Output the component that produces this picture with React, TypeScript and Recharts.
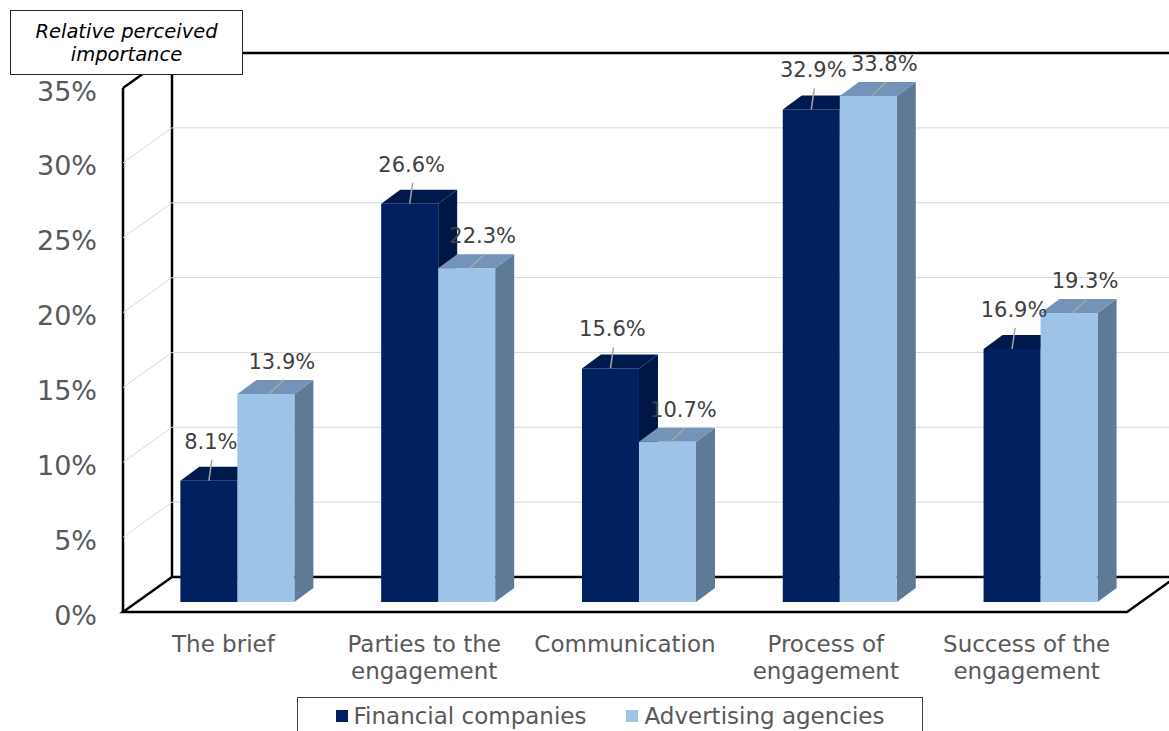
import { BarChart, Bar, XAxis, YAxis, CartesianGrid, LabelList } from "recharts"

const categories = [
  "The brief",
  "Parties to the engagement",
  "Communication",
  "Process of engagement",
  "Success of the engagement",
]
const categoryLines = [
  ["The brief"],
  ["Parties to the", "engagement"],
  ["Communication"],
  ["Process of", "engagement"],
  ["Success of the", "engagement"],
]
const financial = [8.1, 26.6, 15.6, 32.9, 16.9]
const advertising = [13.9, 22.3, 10.7, 33.8, 19.3]
const yTicks = [0, 5, 10, 15, 20, 25, 30, 35]
const seriesNames = ["Financial companies", "Advertising agencies"]

const data = categories.map((name, i) => ({
  name,
  financial: financial[i],
  advertising: advertising[i],
}))

// layout
const W = 1169
const H = 731
const TOP = 88
const XAXIS_H = 119
const BOTTOM = H - XAXIS_H // 612
const FRONT_SHIFT = 14 // front-left corner sits left of the band start
const FLOOR_DX = 49 // depth of the 3d box
const FLOOR_DY = 35
const BAR_DX = 19 // depth of each bar
const BAR_DY = 14
const LIFT = 10 // bars sit a bit behind the front plane

const FONT = "'DejaVu Sans', Verdana, sans-serif"

const colors = {
  dark: { front: "#002060", top: "#001a4d", side: "#001746" },
  light: { front: "#9dc3e6", top: "#7393b8", side: "#5f7a96" },
}

function GridLine(props: any) {
  const { x1, x2, y1, index } = props
  const fl = x1 - FRONT_SHIFT
  const fr = x2 - FRONT_SHIFT
  const farRight = W + 60
  const parts = []
  const onEdge = Math.abs(y1 - TOP) < 1 || Math.abs(y1 - BOTTOM) < 1
  if (!onEdge) {
    parts.push(
      <polyline
        key="g"
        points={`${fl},${y1} ${fl + FLOOR_DX},${y1 - FLOOR_DY} ${farRight},${y1 - FLOOR_DY}`}
        fill="none"
        stroke="#d9d9d9"
        strokeWidth={1}
      />
    )
  }
  if (index === 0) {
    parts.push(
      <g key="frame" fill="none" stroke="#000" strokeWidth={2.5}>
        <polygon
          points={`${fl},${BOTTOM} ${fr},${BOTTOM} ${fr + FLOOR_DX},${BOTTOM - FLOOR_DY} ${fl + FLOOR_DX},${BOTTOM - FLOOR_DY}`}
        />
        <line x1={fr + FLOOR_DX} y1={BOTTOM - FLOOR_DY} x2={farRight} y2={BOTTOM - FLOOR_DY} />
        <line x1={fl} y1={TOP} x2={fl} y2={BOTTOM} />
        <line x1={fl + FLOOR_DX} y1={TOP - FLOOR_DY} x2={fl + FLOOR_DX} y2={BOTTOM - FLOOR_DY} />
        <line x1={fl} y1={TOP} x2={fl + FLOOR_DX} y2={TOP - FLOOR_DY} />
        <line x1={fl + FLOOR_DX} y1={TOP - FLOOR_DY} x2={farRight} y2={TOP - FLOOR_DY} />
      </g>
    )
  }
  return <g key={`grid-${index}`}>{parts}</g>
}

function makeBox(c: { front: string; top: string; side: string }) {
  return (props: any) => {
    const { x, y, width, height } = props
    if (!height) return <g />
    const y0 = y - LIFT
    const yb = y0 + height
    return (
      <g>
        <polygon
          points={`${x + width},${y0} ${x + width + BAR_DX},${y0 - BAR_DY} ${x + width + BAR_DX},${yb - BAR_DY} ${x + width},${yb}`}
          fill={c.side}
        />
        <polygon
          points={`${x},${y0} ${x + BAR_DX},${y0 - BAR_DY} ${x + width + BAR_DX},${y0 - BAR_DY} ${x + width},${y0}`}
          fill={c.top}
        />
        <rect x={x} y={y0} width={width} height={height} fill={c.front} />
      </g>
    )
  }
}

function makeLabel(kind: "dark" | "light") {
  return (props: any) => {
    const { x, y, width, value } = props
    const cx = x + width / 2
    const top = y - LIFT
    const line =
      kind === "dark"
        ? { x1: cx, y1: top, x2: cx + 3, y2: top - 21, tx: cx + 2, ty: top - 39 }
        : { x1: cx + 3, y1: top, x2: cx + 18, y2: top - 14, tx: cx + 16, ty: top - 32 }
    return (
      <g>
        <line x1={line.x1} y1={line.y1} x2={line.x2} y2={line.y2} stroke="#a6a6a6" strokeWidth={1.5} />
        <text
          x={line.tx}
          y={line.ty}
          textAnchor="middle"
          dominantBaseline="central"
          fontFamily={FONT}
          fontSize={21}
          fill="#404040"
        >
          {`${Number(value).toFixed(1)}%`}
        </text>
      </g>
    )
  }
}

function XTick(props: any) {
  const { x, payload } = props
  const lines = categoryLines[categories.indexOf(payload.value)] || [payload.value]
  return (
    <text x={x - FRONT_SHIFT} textAnchor="middle" fontFamily={FONT} fontSize={23} fill="#595959">
      {lines.map((l: string, i: number) => (
        <tspan key={i} x={x - FRONT_SHIFT} y={BOTTOM + 40 + i * 27}>
          {l}
        </tspan>
      ))}
    </text>
  )
}

function YTick(props: any) {
  const { y, payload } = props
  return (
    <text
      x={97}
      y={y + 3}
      textAnchor="end"
      dominantBaseline="central"
      fontFamily={FONT}
      fontSize={27}
      fill="#595959"
    >
      {`${payload.value}%`}
    </text>
  )
}

export default function App() {
  return (
    <div style={{ position: "absolute", left: 0, top: 0, width: W, height: H, background: "#fff", overflow: "hidden" }}>
      <BarChart
        width={W}
        height={H}
        data={data}
        margin={{ top: TOP, right: 28, bottom: 0, left: 0 }}
        barCategoryGap="21.6%"
        barGap={0}
      >
        <CartesianGrid vertical={false} horizontal={GridLine} />
        <XAxis dataKey="name" height={XAXIS_H} axisLine={false} tickLine={false} tick={XTick} interval={0} />
        <YAxis
          domain={[0, 35]}
          ticks={yTicks}
          width={137}
          axisLine={false}
          tickLine={false}
          tick={YTick}
          interval={0}
        />
        <Bar dataKey="financial" name={seriesNames[0]} shape={makeBox(colors.dark)} isAnimationActive={false}>
          <LabelList dataKey="financial" content={makeLabel("dark")} />
        </Bar>
        <Bar dataKey="advertising" name={seriesNames[1]} shape={makeBox(colors.light)} isAnimationActive={false}>
          <LabelList dataKey="advertising" content={makeLabel("light")} />
        </Bar>
      </BarChart>

      <div
        style={{
          position: "absolute",
          left: 10,
          top: 10,
          width: 233,
          height: 65,
          boxSizing: "border-box",
          border: "1.5px solid #262626",
          background: "#fff",
          fontFamily: FONT,
          fontStyle: "italic",
          fontSize: 19.5,
          lineHeight: "23px",
          color: "#000",
          display: "flex",
          alignItems: "center",
          justifyContent: "center",
          textAlign: "center",
        }}
      >
        Relative perceived
        <br />
        importance
      </div>

      <div
        style={{
          position: "absolute",
          left: 297,
          top: 697,
          width: 626,
          height: 50,
          boxSizing: "border-box",
          border: "1.5px solid #404040",
          background: "#fff",
          fontFamily: FONT,
          fontSize: 23,
          color: "#595959",
          display: "flex",
          alignItems: "flex-start",
          justifyContent: "center",
          paddingTop: 5,
          gap: 40,
        }}
      >
        {seriesNames.map((n, i) => (
          <div key={n} style={{ display: "flex", alignItems: "center", gap: 6 }}>
            <span
              style={{
                display: "inline-block",
                width: 12,
                height: 12,
                background: i === 0 ? colors.dark.front : colors.light.front,
              }}
            />
            <span>{n}</span>
          </div>
        ))}
      </div>
    </div>
  )
}
